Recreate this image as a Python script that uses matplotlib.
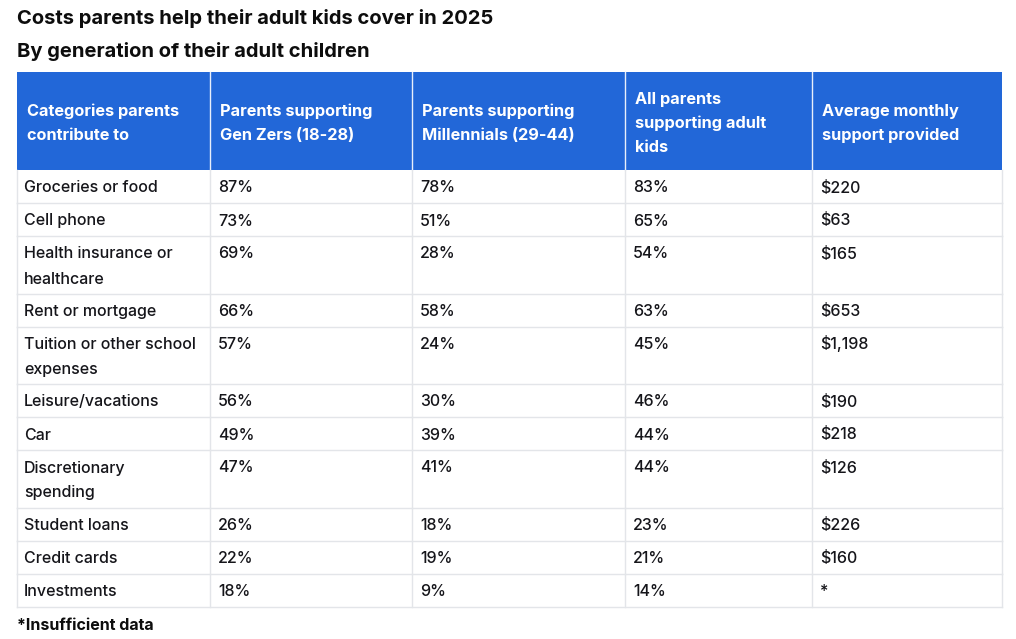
import matplotlib
matplotlib.use("Agg")
import matplotlib.pyplot as plt
from matplotlib.patches import Rectangle

title = "Costs parents help their adult kids cover in 2025"
subtitle = "By generation of their adult children"
footnote = "*Insufficient data"

headers = [
    "Categories parents\ncontribute to",
    "Parents supporting\nGen Zers (18-28)",
    "Parents supporting\nMillennials (29-44)",
    "All parents\nsupporting adult\nkids",
    "Average monthly\nsupport provided",
]
categories = [
    "Groceries or food",
    "Cell phone",
    "Health insurance or\nhealthcare",
    "Rent or mortgage",
    "Tuition or other school\nexpenses",
    "Leisure/vacations",
    "Car",
    "Discretionary\nspending",
    "Student loans",
    "Credit cards",
    "Investments",
]
gen_z = [87, 73, 69, 66, 57, 56, 49, 47, 26, 22, 18]
millennials = [78, 51, 28, 58, 24, 30, 39, 41, 18, 19, 9]
all_parents = [83, 65, 54, 63, 45, 46, 44, 44, 23, 21, 14]
monthly_support = ["$220", "$63", "$165", "$653", "$1,198", "$190", "$218", "$126", "$226", "$160", "*"]

FONT = "Inter"
W, H = 1016, 639
fig = plt.figure(figsize=(W / 100, H / 100), dpi=100)
ax = fig.add_axes([0, 0, 1, 1])
ax.set_xlim(0, W)
ax.set_ylim(H, 0)
ax.axis("off")

def px(p):
    return p * 0.72

col_x = [17, 210, 412, 625, 812, 1002]
header_top, header_bot = 72, 170
line_h = 24.5
single_h = 33
header_color = "#2267d8"
grid_color = "#e3e5e9"
text_color = "#15151a"

ax.text(17, 24, title, fontsize=px(20.2), fontweight="bold", family=FONT,
        color="#0d0d0d", va="baseline", ha="left")
ax.text(17, 57, subtitle, fontsize=px(20.2), fontweight="bold", family=FONT,
        color="#0d0d0d", va="baseline", ha="left")

# header
ax.add_patch(Rectangle((col_x[0], header_top), col_x[-1] - col_x[0],
                       header_bot - header_top, color=header_color, lw=0))
hc = (header_top + header_bot) / 2 + 1.5
for i, h in enumerate(headers):
    lines = h.split("\n")
    n = len(lines)
    for k, ln in enumerate(lines):
        cy = hc + (k - (n - 1) / 2) * 24
        ax.text(col_x[i] + 10, cy + 5.5, ln, fontsize=px(16.3), fontweight="bold",
                family=FONT, color="white", va="baseline", ha="left")
for xv in col_x[1:-1]:
    ax.plot([xv, xv], [header_top, header_bot], color="#e8eefb", lw=1)

# body
rows = []
for i in range(len(categories)):
    rows.append([categories[i], f"{gen_z[i]}%", f"{millennials[i]}%",
                 f"{all_parents[i]}%", monthly_support[i]])

y = header_bot
for r in rows:
    n = max(c.count("\n") + 1 for c in r)
    h = single_h + (n - 1) * line_h
    for ci, c in enumerate(r):
        pad = 7 if ci == 0 else 8
        for k, ln in enumerate(c.split("\n")):
            ax.text(col_x[ci] + pad, y + 17 + k * 25 + 5.5, ln, fontsize=px(16),
                    fontweight="medium", family=FONT, color=text_color,
                    va="baseline", ha="left")
    y2 = y + h
    ax.plot([col_x[0], col_x[-1]], [y2, y2], color=grid_color, lw=1)
    for xv in col_x:
        ax.plot([xv, xv], [y, y2], color=grid_color, lw=1)
    y = y2

ax.text(17, 630, footnote, fontsize=px(16), fontweight="bold", family=FONT,
        color="#0d0d0d", va="baseline", ha="left")

fig.savefig("out.png", dpi=100, facecolor="white")
